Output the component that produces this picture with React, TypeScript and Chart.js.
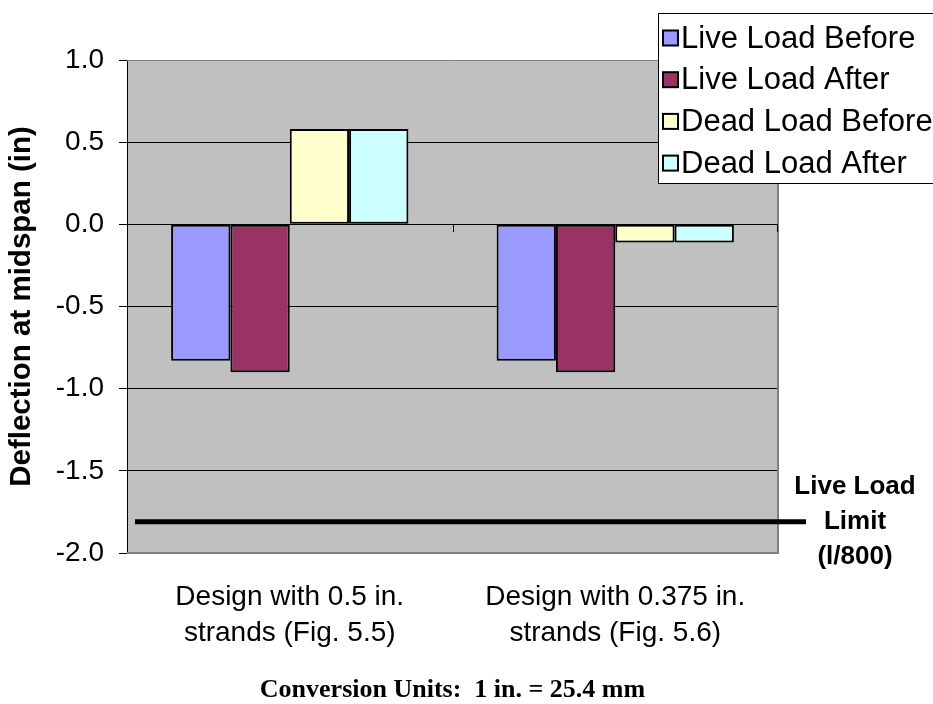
import React, { useEffect, useRef } from "react";
import { Chart, registerables } from "chart.js";

Chart.register(...registerables);

// ---- data ----
const categories: string[][] = [
  ["Design with 0.5 in.", "strands (Fig. 5.5)"],
  ["Design with 0.375 in.", "strands (Fig. 5.6)"],
];
const seriesNames = ["Live Load Before", "Live Load After", "Dead Load Before", "Dead Load After"];
const liveLoadBefore = [-0.83, -0.83];
const liveLoadAfter = [-0.9, -0.9];
const deadLoadBefore = [0.58, -0.11];
const deadLoadAfter = [0.58, -0.11];
const seriesColors = ["#9999FF", "#993366", "#FFFFCC", "#CCFFFF"];
const yMin = -2.0;
const yMax = 1.0;
const yStep = 0.5;
const liveLoadLimit = -1.81;
const limitLabel = ["Live Load", "Limit", "(l/800)"];
const yTitle = "Deflection at midspan (in)";
const footnote = "Conversion Units:  1 in. = 25.4 mm";

const SANS = "'Liberation Sans', Arial, sans-serif";
const SERIF = "'Liberation Serif', 'Times New Roman', serif";

const plotBackground = {
  id: "plotBackground",
  beforeDraw(chart: any) {
    const { ctx, chartArea: a } = chart;
    ctx.save();
    ctx.fillStyle = "#C0C0C0";
    ctx.fillRect(a.left, a.top, a.right - a.left, a.bottom - a.top);
    ctx.restore();
  },
  beforeDatasetsDraw(chart: any) {
    const { ctx, chartArea: a, scales } = chart;
    ctx.save();
    // frame (top, right, bottom)
    ctx.strokeStyle = "#808080";
    ctx.lineWidth = 1;
    ctx.beginPath();
    ctx.moveTo(a.left, Math.floor(a.top) + 0.5);
    ctx.lineTo(a.right, Math.floor(a.top) + 0.5);
    ctx.stroke();
    ctx.lineWidth = 2;
    ctx.beginPath();
    ctx.moveTo(a.right, a.top);
    ctx.lineTo(a.right, a.bottom);
    ctx.moveTo(a.left, a.bottom);
    ctx.lineTo(a.right + 1, a.bottom);
    ctx.stroke();
    // category tick marks on the zero line
    const x = scales.x;
    const y0 = Math.round(scales.y.getPixelForValue(0));
    ctx.strokeStyle = "#000";
    ctx.lineWidth = 1;
    ctx.beginPath();
    for (let i = 0; i < categories.length; i++) {
      const left = i === 0 ? a.left : (x.getPixelForTick(i - 1) + x.getPixelForTick(i)) / 2;
      const right = i === categories.length - 1 ? a.right : (x.getPixelForTick(i) + x.getPixelForTick(i + 1)) / 2;
      if (i > 0) {
        const px = Math.round(left) + 0.5;
        ctx.moveTo(px, y0);
        ctx.lineTo(px, y0 + 8);
      }
      if (i === categories.length - 1) {
        const px = Math.round(right) - 0.5;
        ctx.moveTo(px, y0);
        ctx.lineTo(px, y0 + 8);
      }
    }
    ctx.stroke();
    ctx.restore();
  },
};

const limitLine = {
  id: "limitLine",
  afterDatasetsDraw(chart: any) {
    const { ctx, chartArea: a, scales } = chart;
    const y = scales.y.getPixelForValue(liveLoadLimit);
    ctx.save();
    ctx.strokeStyle = "#000";
    ctx.lineWidth = 5;
    ctx.beginPath();
    ctx.moveTo(a.left + 8, y);
    ctx.lineTo(a.right + 28, y);
    ctx.stroke();
    ctx.fillStyle = "#000";
    ctx.font = `bold 26px ${SANS}`;
    ctx.textAlign = "center";
    ctx.textBaseline = "middle";
    const cx = a.right + 77;
    limitLabel.forEach((t, i) => {
      ctx.fillText(t, cx, y + (i - 1) * 35);
    });
    ctx.restore();
  },
};

const footnoteText = {
  id: "footnoteText",
  afterDraw(chart: any) {
    const { ctx, chartArea: a } = chart;
    ctx.save();
    ctx.fillStyle = "#000";
    ctx.font = `bold 26px ${SERIF}`;
    ctx.textAlign = "center";
    ctx.textBaseline = "middle";
    ctx.fillText(footnote, (a.left + a.right) / 2, 690);
    ctx.restore();
  },
};

const boxLegend = {
  id: "boxLegend",
  afterDraw(chart: any) {
    const { ctx } = chart;
    const bx = 658.5;
    const by = 13.5;
    const bw = 280;
    const bh = 170;
    ctx.save();
    ctx.fillStyle = "#FFFFFF";
    ctx.fillRect(bx, by, bw, bh);
    ctx.strokeStyle = "#000";
    ctx.lineWidth = 1;
    ctx.strokeRect(bx, by, bw, bh);
    ctx.font = `31px ${SANS}`;
    ctx.textBaseline = "middle";
    ctx.textAlign = "left";
    chart.data.datasets.forEach((ds: any, i: number) => {
      const cy = 38 + i * 41.7;
      ctx.fillStyle = ds.backgroundColor;
      ctx.fillRect(663, cy - 7.5, 15, 15);
      ctx.lineWidth = 2;
      ctx.strokeStyle = "#000";
      ctx.strokeRect(663, cy - 7.5, 15, 15);
      ctx.fillStyle = "#000";
      ctx.fillText(ds.label, 681, cy + 1);
    });
    ctx.restore();
  },
};

export default function App() {
  const ref = useRef<HTMLCanvasElement | null>(null);

  useEffect(() => {
    if (!ref.current) return;
    const values = [liveLoadBefore, liveLoadAfter, deadLoadBefore, deadLoadAfter];
    const chart = new Chart(ref.current, {
      type: "bar",
      data: {
        labels: categories as any,
        datasets: seriesNames.map((name, i) => ({
          label: name,
          data: values[i],
          backgroundColor: seriesColors[i],
          borderColor: "#000",
          borderWidth: 2,
          borderSkipped: false,
          categoryPercentage: 0.729,
          barPercentage: 1.0,
        })),
      },
      options: {
        animation: false,
        responsive: false,
        maintainAspectRatio: false,
        layout: { padding: { top: 60, right: 155, left: 0, bottom: 0 } },
        plugins: {
          legend: { display: false },
          tooltip: { enabled: false },
          title: { display: false },
        },
        scales: {
          x: {
            type: "category",
            grid: { display: false, drawTicks: false },
            border: { display: false },
            ticks: {
              color: "#000",
              font: { family: SANS, size: 28, lineHeight: 1.29 },
              padding: 26,
              maxRotation: 0,
              autoSkip: false,
            },
            afterFit(scale: any) {
              scale.height = 151;
            },
          },
          y: {
            min: yMin,
            max: yMax,
            ticks: {
              stepSize: yStep,
              color: "#000",
              font: { family: SANS, size: 28 },
              padding: 15,
              callback: (v: any) => Number(v).toFixed(1),
            },
            grid: {
              color: (c: any) =>
                c.tick && (c.tick.value === yMax || c.tick.value === yMin) ? "rgba(0,0,0,0)" : "#000",
              tickColor: "#000",
              tickLength: 8,
              lineWidth: 1,
            },
            border: { color: "#000", width: 1 },
            title: {
              display: true,
              text: yTitle,
              color: "#000",
              font: { family: SANS, size: 29.5, weight: "bold" },
              padding: { top: 4, bottom: 0 },
            },
            afterFit(scale: any) {
              scale.width = 127;
            },
          },
        },
      },
      plugins: [plotBackground, limitLine, boxLegend, footnoteText],
    } as any);
    return () => chart.destroy();
  }, []);

  return (
    <div style={{ position: "absolute", left: 0, top: 0, width: 933, height: 704, background: "#fff" }}>
      <canvas ref={ref} width={933} height={704} style={{ display: "block" }} />
    </div>
  );
}
